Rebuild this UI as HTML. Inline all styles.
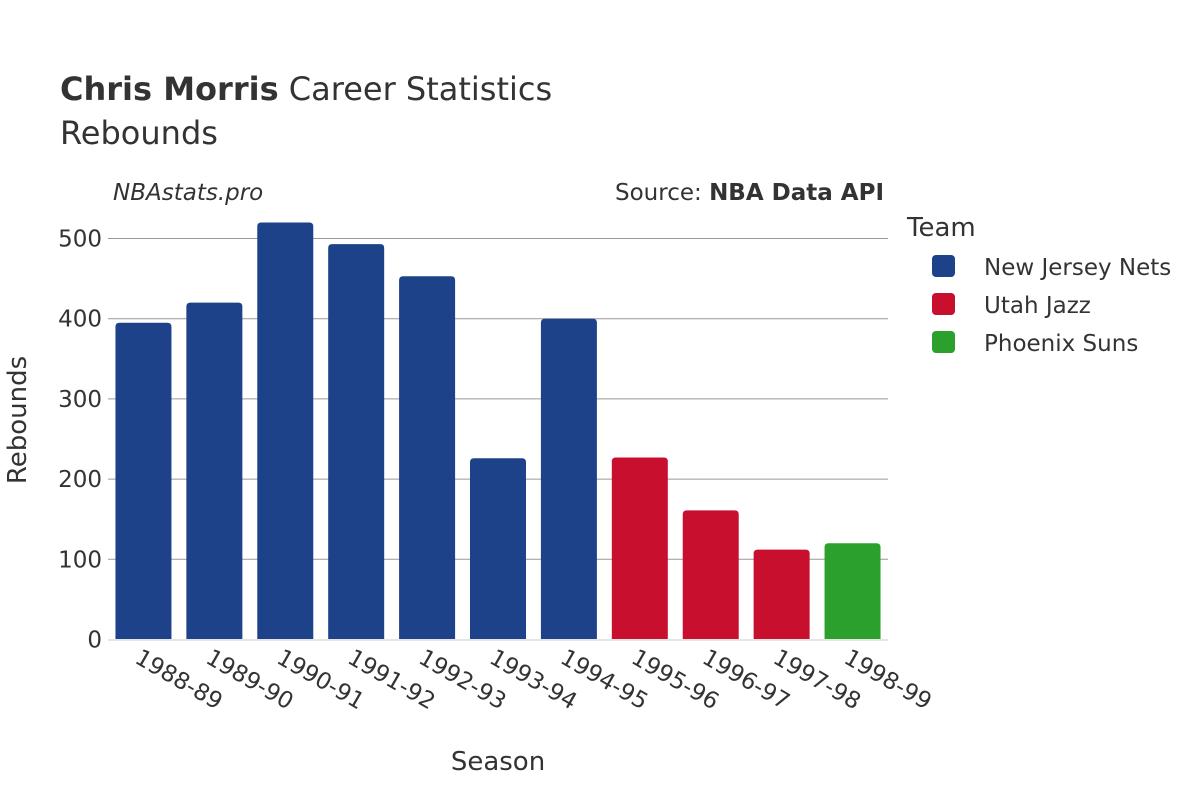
<!DOCTYPE html>
<html><head><meta charset="utf-8"><style>
body{margin:0;background:#fff;}
svg text{font-family:"DejaVu Sans","Liberation Sans",sans-serif;fill:#333;}
</style></head><body>
<svg id="chart" width="1200" height="800" xmlns="http://www.w3.org/2000/svg">
<text x="60" y="100" font-size="32"><tspan font-weight="bold">Chris Morris</tspan> Career Statistics</text>
<text x="60" y="144" font-size="32">Rebounds</text>
<text x="113" y="200" font-size="23" font-style="italic">NBAstats.pro</text>
<text x="884" y="200" font-size="23" text-anchor="end">Source: <tspan font-weight="bold">NBA Data API</tspan></text>
<g id="grid"></g><g id="bars"></g><g id="yticks"></g><g id="xticks"></g>
<line x1="108" x2="888" y1="640" y2="640" stroke="#e5e5e5" stroke-width="2"/>
<text transform="translate(26,420) rotate(-90)" font-size="26" text-anchor="middle">Rebounds</text>
<text x="498" y="770" font-size="26" text-anchor="middle">Season</text>
<g>
<text x="907" y="236" font-size="26">Team</text>
<rect x="932" y="255" width="23" height="22" rx="4" fill="#1d428a"/>
<text x="984" y="275" font-size="23">New Jersey Nets</text>
<rect x="932" y="293" width="23" height="22" rx="4" fill="#c8102e"/>
<text x="984" y="313" font-size="23">Utah Jazz</text>
<rect x="932" y="331" width="23" height="22" rx="4" fill="#2ca02c"/>
<text x="984" y="351" font-size="23">Phoenix Suns</text>
</g>
</svg>
<script>
const seasons=["1988-89","1989-90","1990-91","1991-92","1992-93","1993-94","1994-95","1995-96","1996-97","1997-98","1998-99"];
const rebounds=[395,420,520,493,453,226,400,227,161,112,120];
const teams=["NJN","NJN","NJN","NJN","NJN","NJN","NJN","UTA","UTA","UTA","PHX"];
const yTicks=[0,100,200,300,400,500];
const colors={NJN:"#1d428a",UTA:"#c8102e",PHX:"#2ca02c"};
const ns="http://www.w3.org/2000/svg";
const x0=108,x1=888,y0=639.5,pxPer=0.802;
const band=(x1-x0)/seasons.length;
const y=v=>y0-v*pxPer;
const xc=i=>x0+band*(i+0.5);
function mk(t,a,p){const e=document.createElementNS(ns,t);for(const k in a)e.setAttribute(k,a[k]);document.getElementById(p).appendChild(e);return e;}
yTicks.forEach(v=>{
 if(v>0){const l=mk("line",{x1:x0,x2:x1,y1:y(v),y2:y(v),stroke:"#999","stroke-width":1},"grid");
 
 }
 const t=mk("text",{x:x0-6,y:y(v)+8,"font-size":23,"text-anchor":"end"},"yticks");t.textContent=v;
 
 
});
seasons.forEach((s,i)=>{
 const w=56,top=y(rebounds[i]);
 const r=mk("path",{d:`M${xc(i)-w/2},${y0} V${top+4} Q${xc(i)-w/2},${top} ${xc(i)-w/2+4},${top} H${xc(i)+w/2-4} Q${xc(i)+w/2},${top} ${xc(i)+w/2},${top+4} V${y0} Z`,fill:colors[teams[i]]},"bars");
 
 
 const t=mk("text",{transform:`translate(${xc(i)-10},${662}) rotate(30)`,"font-size":23},"xticks");t.textContent=s;
 
 
});
</script>
</body></html>
